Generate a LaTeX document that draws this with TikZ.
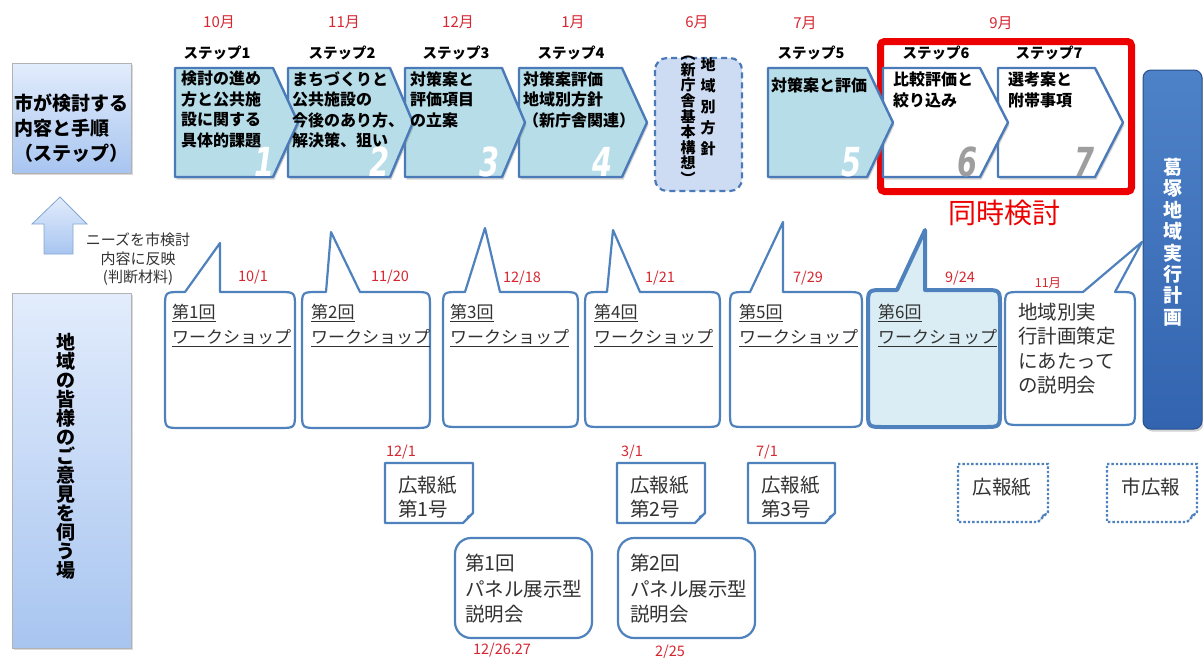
\documentclass[tikz,border=0pt]{standalone}
\usepackage{fontspec}
\setmainfont{Noto Sans CJK JP}
\newfontfamily\numfont{DejaVu Sans}
\usetikzlibrary{shadows}
\definecolor{chevfill}{RGB}{183,221,232}
\definecolor{chevline}{RGB}{74,122,184}
\definecolor{bubline}{RGB}{79,129,189}
\definecolor{datered}{RGB}{214,38,48}
\definecolor{boxred}{RGB}{236,0,0}
\definecolor{wsfill}{RGB}{218,237,244}
\definecolor{plantop}{RGB}{78,130,200}
\definecolor{planbot}{RGB}{50,100,175}
\definecolor{lbtop}{RGB}{226,236,252}
\definecolor{lbbot}{RGB}{168,197,240}
\definecolor{txtgray}{RGB}{50,50,50}
\definecolor{dashfill}{RGB}{205,220,243}
\newcommand{\fs}[2]{\fontsize{#1}{#2}\selectfont}
\newcommand{\chev}[4]{\draw[#1] (#2,68) -- (#3,68) -- (#4,122.5) -- (#3,177) -- (#2,177) -- cycle;}
% style, l, t, r, b, baseL, baseR, tipx, tipy
\newcommand{\bubble}[9]{\draw[#1] (#7,#3) -- (#4-16,#3) .. controls (#4,#3) .. (#4,#3+16) -- (#4,#5-16) .. controls (#4,#5) .. (#4-16,#5) -- (#2+16,#5) .. controls (#2,#5) .. (#2,#5-16) -- (#2,#3+16) .. controls (#2,#3) .. (#2+16,#3) -- (#6,#3) -- (#8,#9) -- cycle;}
\newcommand{\paper}[5]{\draw[#1] (#2,#3) -- (#4,#3) -- (#4,#5-10) -- (#4-10,#5) -- (#2,#5) -- cycle;
 \fill[bubline] (#4,#5-10) -- (#4-10,#5) .. controls (#4-6,#5-4) .. (#4-6,#5-7) -- cycle;}
\begin{document}
\begin{tikzpicture}[x=1pt,y=-1pt,
  chevB/.style={draw=chevline, line width=2.4, fill=chevfill, line join=round, drop shadow={opacity=0.35, shadow xshift=1.5pt, shadow yshift=-2.5pt}},
  chevW/.style={chevB, fill=white},
  stxt/.style={anchor=north west, inner sep=0pt, align=left, font=\bfseries\fs{16}{20.5}},
  slabel/.style={inner sep=0pt, font=\bfseries\fs{14.5}{14.5}},
  month/.style={inner sep=0pt, text=datered, font=\fs{15}{15}},
  datelbl/.style={inner sep=0pt, text=datered, font=\fs{14.5}{14.5}},
  bignum/.style={inner sep=0pt, text=white, font=\numfont\bfseries\itshape\fs{40}{40}, xscale=0.72},
  bub/.style={draw=bubline, line width=2.2, fill=white, line join=round},
  wstxt/.style={anchor=north west, inner sep=0pt, align=left, text=txtgray, font=\fs{17}{25}},
  ptxt/.style={anchor=north west, inner sep=0pt, align=left, text=txtgray, font=\fs{19.5}{24}},
  paperbox/.style={draw=bubline, line width=2.2, fill=white, line join=round},
  dotbox/.style={draw=bubline, line width=2.4, dotted, fill=white},
  vtxt/.style={anchor=north, inner sep=0pt, align=center},
  lbox/.style={draw=black!30, line width=0.8, top color=lbtop, bottom color=lbbot, drop shadow={opacity=0.3, shadow xshift=1.5pt, shadow yshift=-2pt}}
]
\useasboundingbox (0,0) rectangle (1203,657);

% left headers
\draw[lbox] (12,63) rectangle (131,173);
\node[anchor=north west, inner sep=0pt, align=left, font=\bfseries\fs{19}{25}] (cityttl) at (14,94) {市が検討する\\内容と手順\\（ステップ）};
\draw[draw=bubline!70, line width=0.8, top color=lbtop, bottom color=lbbot] (60,197) -- (87,224) -- (73,224) -- (73,254) -- (44,254) -- (44,224) -- (32,224) -- cycle;
\node[align=center, inner sep=0pt, text=txtgray, font=\fs{15}{18.5}, anchor=north] (needs) at (138,233) {ニーズを市検討\\内容に反映\\(判断材料)};
\draw[lbox] (12,293) rectangle (131,648);
\node[vtxt, font=\bfseries\fs{19}{19}] (localttl) at (66,333) {地\\域\\の\\皆\\様\\の\\ご\\意\\見\\を\\伺\\う\\場};

% months
\node[month] (m1) at (219,22) {10月};
\node[month] (m2) at (344,22) {11月};
\node[month] (m3) at (458,22) {12月};
\node[month] (m4) at (573,22) {1月};
\node[month] (m5) at (697,22) {6月};
\node[month] (m6) at (805,23) {7月};
\node[month] (m7) at (1001,23) {9月};

% red frame
\draw[boxred, line width=7, rounded corners=4] (880.5,41.5) rectangle (1131.5,191.5);
\node[text=boxred, font=\fs{28}{28}, inner sep=0pt] (simul) at (1004,213) {同時検討};

% plan box
\draw[draw=planbot!80!black, line width=1, top color=plantop, bottom color=planbot, rounded corners=8, drop shadow={opacity=0.35, shadow xshift=1.5pt, shadow yshift=-2.5pt}] (1143,70) rectangle (1202,429);
\node[vtxt, text=white, font=\bfseries\fs{19}{21.4}] (plan) at (1173,158) {葛\\塚\\地\\域\\実\\行\\計\\画};

% June dashed box
\draw[draw=chevline, line width=2.2, dash pattern=on 6pt off 4pt, fill=dashfill, rounded corners=12] (655,58) rectangle (742,191);
\node[vtxt, font=\bfseries\fs{15}{15.6}] (june1) at (688,56) {︵\\新\\庁\\舎\\基\\本\\構\\想\\︶};
\node[vtxt, font=\bfseries\fs{15}{21}] (june2) at (708,57) {地\\域\\別\\方\\針};

% chevrons
\chev{chevW}{998}{1095}{1123}
\chev{chevW}{883}{980}{1008}
\chev{chevB}{768}{867}{893}
\chev{chevB}{519}{622}{647}
\chev{chevB}{405}{502}{525}
\chev{chevB}{288}{390}{413}
\chev{chevB}{175}{273}{298}

% big numbers
\node[bignum] (n1) at (265,162) {1};
\node[bignum] (n2) at (380,162) {2};
\node[bignum] (n3) at (490,162) {3};
\node[bignum] (n4) at (603,162) {4};
\node[bignum] (n5) at (852,162) {5};
\node[bignum, text=black!38] (n6) at (968,162) {6};
\node[bignum, text=black!38] (n7) at (1085,162) {7};

% step labels
\node[slabel] (l1) at (217,53) {ステップ1};
\node[slabel] (l2) at (342,53) {ステップ2};
\node[slabel] (l3) at (456,53) {ステップ3};
\node[slabel] (l4) at (571,53) {ステップ4};
\node[slabel] (l5) at (811,53) {ステップ5};
\node[slabel] (l6) at (936,53) {ステップ6};
\node[slabel] (l7) at (1049,53) {ステップ7};

% step texts
\node[stxt] (s1) at (181,71) {検討の進め\\方と公共施\\設に関する\\具体的課題};
\node[stxt] (s2) at (292,71) {まちづくりと\\公共施設の\\今後のあり方、\\解決策、狙い};
\node[stxt] (s3) at (410,71) {対策案と\\評価項目\\の立案};
\node[stxt] (s4) at (523,71) {対策案評価\\地域別方針\\（新庁舎関連）};
\node[stxt] (s5) at (771,77) {対策案と評価};
\node[stxt] (s6) at (893,72) {比較評価と\\絞り込み};
\node[stxt] (s7) at (1008,72) {選考案と\\附帯事項};

% workshop bubbles
\bubble{bub}{165}{292}{295}{428}{185}{220}{220}{243}
\bubble{bub}{302}{292}{430}{428}{326}{360}{331}{232}
\bubble{bub}{443}{292}{578}{427}{465}{500}{485}{228}
\bubble{bub}{585}{292}{720}{427}{607}{640}{613}{230}
\bubble{bub}{730}{292}{862}{427}{750}{783}{783}{222}
\bubble{bub, fill=wsfill, line width=4}{868}{290}{1000}{427}{897}{925}{925}{230}
\bubble{bub}{1005}{292}{1135}{425}{1083}{1115}{1142}{242}

\node[wstxt] (w1) at (172,304) {\underline{第1回}\\\underline{ワークショップ}};
\node[wstxt] (w2) at (311,304) {\underline{第2回}\\\underline{ワークショップ}};
\node[wstxt] (w3) at (450,304) {\underline{第3回}\\\underline{ワークショップ}};
\node[wstxt] (w4) at (594,304) {\underline{第4回}\\\underline{ワークショップ}};
\node[wstxt] (w5) at (739,304) {\underline{第5回}\\\underline{ワークショップ}};
\node[wstxt] (w6) at (878,304) {\underline{第6回}\\\underline{ワークショップ}};
\node[ptxt, font=\fs{19.5}{24.3}] (meet) at (1018,303) {地域別実\\行計画策定\\にあたって\\の説明会};

\node[datelbl] (d1) at (253,277) {10/1};
\node[datelbl] (d2) at (390,277) {11/20};
\node[datelbl] (d3) at (522,278) {12/18};
\node[datelbl] (d4) at (660,278) {1/21};
\node[datelbl] (d5) at (808,278) {7/29};
\node[datelbl] (d6) at (960,278) {9/24};
\node[datelbl, font=\fs{12.5}{12.5}] (d7) at (1048,283) {11月};

% newsletters
\paper{paperbox}{385}{463}{473}{523}
\paper{paperbox}{617}{463}{705}{523}
\paper{paperbox}{748}{463}{835}{523}
\paper{dotbox}{958}{464}{1048}{522}
\paper{dotbox}{1107}{464}{1197}{522}
\node[ptxt] (p1) at (398,476) {広報紙\\第1号};
\node[ptxt] (p2) at (630,476) {広報紙\\第2号};
\node[ptxt] (p3) at (761,476) {広報紙\\第3号};
\node[inner sep=0pt, font=\fs{19.5}{24}, text=txtgray] (p4) at (1002,487) {広報紙};
\node[inner sep=0pt, font=\fs{19.5}{24}, text=txtgray] (p5) at (1151,487) {市広報};
\node[datelbl] (d8) at (401,452) {12/1};
\node[datelbl] (d9) at (632,452) {3/1};
\node[datelbl] (d10) at (767,452) {7/1};

% panel sessions
\draw[bub, rounded corners=16] (455,538) rectangle (592,638);
\draw[bub, rounded corners=16] (618,538) rectangle (755,638);
\node[anchor=north west, inner sep=0pt, align=left, text=txtgray, font=\fs{19.5}{25.5}] (pan1) at (465,554) {第1回\\パネル展示型\\説明会};
\node[anchor=north west, inner sep=0pt, align=left, text=txtgray, font=\fs{19.5}{25.5}] (pan2) at (630,554) {第2回\\パネル展示型\\説明会};
\node[datelbl] (d11) at (502,650) {12/26.27};
\node[datelbl] (d12) at (670,652) {2/25};
\end{tikzpicture}
\end{document}
